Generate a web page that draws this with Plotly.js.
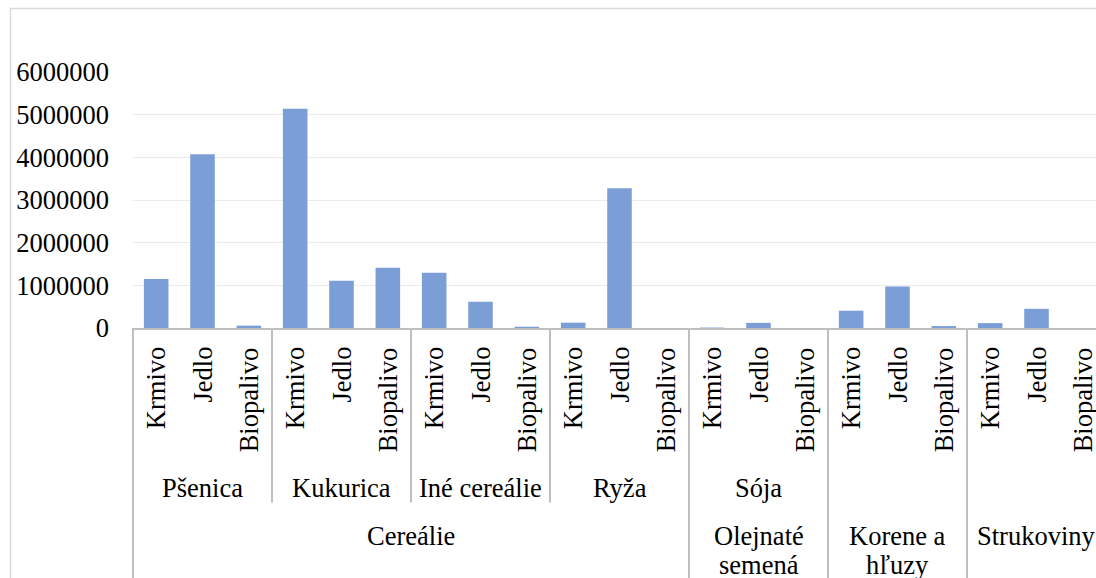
<!DOCTYPE html>
<html><head><meta charset="utf-8">
<script src="https://cdn.plot.ly/plotly-3.0.1.min.js"></script>
<style>
html,body{margin:0;padding:0;overflow:hidden;background:#fff;width:1096px;height:578px}
#chart{position:absolute;left:0;top:0;width:1110px;height:578px}
</style>
</head><body><div id="chart"></div>
<script>
// ---- data ----
const uses = ['Krmivo', 'Jedlo', 'Biopalivo'];
const crops = ['Pšenica', 'Kukurica', 'Iné cereálie', 'Ryža', 'Sója', '', ''];
const groups = [['Cereálie'], ['Olejnaté', 'semená'], ['Korene a', 'hľuzy'], ['Strukoviny']];
const cropsPerGroup = [4, 1, 1, 1];
const psenica     = [1150000, 4070000, 55000];
const kukurica    = [5140000, 1110000, 1410000];
const ineCerealie = [1295000, 615000, 30000];
const ryza        = [125000, 3275000, 0];
const soja        = [10000, 120000, 0];
const koreneHluzy = [405000, 975000, 45000];
const strukoviny  = [115000, 450000, 0];
const yTicks = [0, 1000000, 2000000, 3000000, 4000000, 5000000, 6000000];

const seriesByCrop = [psenica, kukurica, ineCerealie, ryza, soja, koreneHluzy, strukoviny];

// ---- build categories ----
const cropGroup = [];
cropsPerGroup.forEach((n, g) => { for (let k = 0; k < n; k++) cropGroup.push(g); });
const xCats = [], yVals = [];
seriesByCrop.forEach((vals, c) => {
  vals.forEach((v, u) => {
    xCats.push(groups[cropGroup[c]].join(' ') + ' / ' + (crops[c] || '-') + ' / ' + uses[u]);
    yVals.push(v);
  });
});
const nCats = xCats.length;

// ---- geometry (pixels) ----
const W = 1110, H = 578;
const mL = 133, mR = 4, mT = 72, mB = 250;
const plotH = H - mT - mB;
const px2paperY = py => (H - mB - py) / plotH;

const FONT = '"Liberation Serif", "Times New Roman", Times, serif';
const FS = 26.5;

const annotations = [];
// level 1: uses (rotated)
xCats.forEach((c, i) => {
  annotations.push({
    x: i, xref: 'x', y: 0, yref: 'paper', yanchor: 'top', xanchor: 'center',
    yshift: -17, textangle: -90, showarrow: false,
    text: uses[i % uses.length], font: {family: FONT, size: FS, color: '#000'}
  });
});
// level 2: crops
crops.forEach((c, i) => {
  if (!c) return;
  annotations.push({
    x: i * uses.length + (uses.length - 1) / 2, xref: 'x', y: px2paperY(488), yref: 'paper',
    yanchor: 'middle', xanchor: 'center', showarrow: false,
    text: c, font: {family: FONT, size: FS, color: '#000'}
  });
});
// level 3: groups
let start = 0;
const lineY = [536, 565];
groups.forEach((g, gi) => {
  const n = cropsPerGroup[gi] * uses.length;
  const center = start + (n - 1) / 2;
  g.forEach((line, li) => {
    annotations.push({
      x: center, xref: 'x', y: px2paperY(lineY[li]), yref: 'paper',
      yanchor: 'middle', xanchor: 'center', showarrow: false,
      text: line, font: {family: FONT, size: FS, color: '#000'}
    });
  });
  start += n;
});

// ---- divider shapes ----
const shapes = [];
const lineCol = '#bfbfbf';
const groupBounds = new Set([0]);
{ let s = 0; cropsPerGroup.forEach(n => { s += n; groupBounds.add(s); }); }
for (let k = 0; k <= crops.length; k++) {
  const xp = (k * uses.length) / nCats;
  const full = groupBounds.has(k);
  shapes.push({
    type: 'line', xref: 'paper', yref: 'paper',
    x0: xp, x1: xp, y0: 0, y1: full ? px2paperY(H + 5) : px2paperY(502.5),
    line: {color: lineCol, width: 2}
  });
}
// outer chart border
shapes.push({
  type: 'rect', xref: 'paper', yref: 'paper',
  x0: (10.5 - mL) / (W - mL - mR), x1: 2, y0: px2paperY(H + 20), y1: px2paperY(8.5),
  line: {color: '#d9d9d9', width: 1.5}, fillcolor: 'rgba(0,0,0,0)', layer: 'below'
});

const trace = {
  type: 'bar', x: xCats, y: yVals,
  marker: {color: '#7b9ed6', line: {width: 0}},
  hoverinfo: 'x+y'
};

const layout = {
  width: W, height: H,
  margin: {l: mL, r: mR, t: mT, b: mB, pad: 0},
  paper_bgcolor: '#fff', plot_bgcolor: '#fff',
  showlegend: false,
  bargap: 0.47,
  font: {family: FONT, size: FS, color: '#000'},
  xaxis: {
    type: 'category', range: [-0.5, nCats - 0.5], showticklabels: false, ticks: '',
    showgrid: false, zeroline: false, showline: true, linecolor: lineCol, linewidth: 2,
    fixedrange: true
  },
  yaxis: {
    range: [0, 6000000], tickvals: yTicks, tickformat: 'd', ticks: '',
    ticklabelstandoff: 23,
    showgrid: true, gridcolor: '#ebebeb', gridwidth: 1, zeroline: false, showline: false,
    tickfont: {family: FONT, size: FS, color: '#000'}, fixedrange: true
  },
  annotations: annotations,
  shapes: shapes
};

Plotly.newPlot('chart', [trace], layout, {displayModeBar: false, staticPlot: true});
</script>
</body></html>
